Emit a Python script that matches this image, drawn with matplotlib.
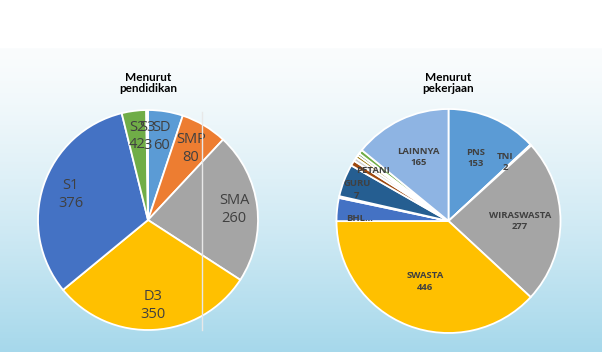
import matplotlib.pyplot as plt
import numpy as np
from matplotlib.colors import to_rgb

# data
edu_labels = ['SD', 'SMP', 'SMA', 'D3', 'S1', 'S2', 'S3']
edu_values = [60, 80, 260, 350, 376, 42, 3]
edu_colors = ['#5B9BD5', '#ED7D31', '#A5A5A5', '#FFC000', '#4472C4', '#70AD47', '#255E91']

job_labels = ['PNS', 'TNI', 'WIRASWASTA', 'SWASTA', 'BHL...', 'POLRI', 'GURU',
              'PETANI', 'BURUH', 'NELAYAN', 'PEDAGANG', 'PENSIUNAN', 'LAINNYA']
job_values = [153, 2, 277, 446, 39, 3, 55, 9, 6, 5, 4, 7, 165]
job_colors = ['#5B9BD5', '#ED7D31', '#A5A5A5', '#FFC000', '#4472C4', '#70AD47', '#255E91',
              '#9E480E', '#D0D0D0', '#997300', '#43682B', '#70AD47', '#8EB4E3']
# text shown for each slice (None = no label)
job_text = ['PNS\n153', 'TNI\n2', 'WIRASWASTA\n277', 'SWASTA\n446', 'BHL...', '7', 'GURU',
            'PETANI', None, None, None, None, 'LAINNYA\n165']

W, H = 602, 354
fig = plt.figure(figsize=(W / 100, H / 100), dpi=100)

# background gradient
bg = fig.add_axes([0, 0.006, 1, 0.858], zorder=-10)
top = np.array(to_rgb('#FAFCFD'))
bot = np.array(to_rgb('#A6D8EB'))
t = np.linspace(0, 1, 256)[:, None] ** 1.3
grad = top + (bot - top) * t
bg.imshow(grad[:, None, :], aspect='auto', extent=[0, 1, 0, 1])
bg.axis('off')


def px_axes(cx, cy, r):
    return fig.add_axes([(cx - r) / W, 1 - (cy + r) / H, 2 * r / W, 2 * r / H])


def draw_pie(ax, values, colors):
    wedges, _ = ax.pie(values, colors=colors, startangle=90, counterclock=False,
                       wedgeprops=dict(edgecolor='white', linewidth=1.3))
    ax.set_xlim(-1, 1)
    ax.set_ylim(-1, 1)
    ax.set_aspect('equal')
    ax.axis('off')
    return wedges


def put(ax, w, txt, r, da=0, **kw):
    a = np.deg2rad((w.theta1 + w.theta2) / 2 + da)
    ax.text(r * np.cos(a), r * np.sin(a), txt, ha='center', va='center', **kw)


# left pie
ax1 = px_axes(148, 220, 110)
w1 = draw_pie(ax1, edu_values, edu_colors)
edu_r = [0.77, 0.76, 0.79, 0.78, 0.74, 0.77, 0.76]
for w, lab, v, r in zip(w1, edu_labels, edu_values, edu_r):
    put(ax1, w, f'{lab}\n{v}', r, fontsize=10.5, color='#404040',
        family='Open Sans', linespacing=1.25)

# right pie
ax2 = px_axes(448.5, 221, 112)
w2 = draw_pie(ax2, job_values, job_colors)
job_r = [0.61, 0.73, 0.64, 0.58, 0.79, 0.85, 0.88, 0.81, 0, 0, 0, 0, 0.63]
job_da = [0, 3.5, 0, 0, 4.6, -3, -1, -2.4, 0, 0, 0, 0, 0]
for w, txt, r, da in zip(w2, job_text, job_r, job_da):
    if txt is None:
        continue
    put(ax2, w, txt, r, da, fontsize=6.8, color='#404040', fontweight='bold',
        family='Open Sans', linespacing=1.3)

# stray vertical line
fig.add_artist(plt.Line2D([202 / W, 202 / W], [1 - 330 / H, 1 - 112 / H],
                          color='#E8E8E8', lw=1.0, zorder=5))

fig.text(148 / W, 1 - 83 / H, 'Menurut\npendidikan', ha='center', va='center',
         fontsize=8.5, fontweight='bold', family='Lato', linespacing=1.1)
fig.text(448 / W, 1 - 83 / H, 'Menurut\npekerjaan', ha='center', va='center',
         fontsize=8.5, fontweight='bold', family='Lato', linespacing=1.1)

fig.savefig('out.png', dpi=100)
